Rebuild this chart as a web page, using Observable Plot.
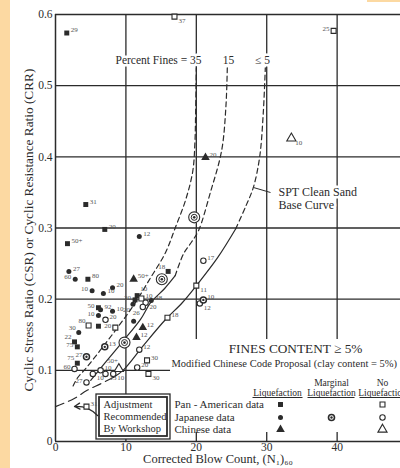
<!DOCTYPE html>
<html><head><meta charset="utf-8">
<script src="https://cdn.jsdelivr.net/npm/d3@7"></script>
<script src="https://cdn.jsdelivr.net/npm/@observablehq/plot@0.6"></script>
<style>
html,body{margin:0;padding:0;background:#fff;overflow:hidden}
#wrap{position:relative;width:400px;height:468px;overflow:hidden;background:#fff}
#wrap svg{position:absolute;left:0;top:0}
.strip{position:absolute;left:0;top:0;width:10px;height:468px;background:#fcd9a2}
.tr{position:absolute;left:367px;top:0;width:33px;height:2px;background:#fcd9a2}
</style></head>
<body><div id="wrap"><div class="strip"></div><div class="tr"></div></div>
<script>
// ---- tick values ----
const xTicks = [0, 10, 20, 30, 40];
const yTicks = [0, 0.1, 0.2, 0.3, 0.4, 0.5, 0.6];

// ---- data: [ (N1)60, CSR, label ] ----
const panLiq = [[1.6,0.574,"29"],[4.3,0.333,"31"],[7.0,0.298,"20"],[1.7,0.278,"50+"],[4.6,0.228,"80"],
  [16.0,0.239,"18"],[11.6,0.205,"10"],[11.3,0.199,"20"],[6.1,0.188,"50"],[6.1,0.162,""],
  [2.7,0.140,"22"],[3.1,0.133,"75"],[3.1,0.110,"75"]];
const panNo = [[16.9,0.597,"37"],[39.5,0.577,"25"],[12.2,0.201,"10"],[4.7,0.163,"80"],[8.5,0.160,"20"],
  [20.0,0.219,"11"],[15.9,0.174,"18"],[13.0,0.114,"30"],[13.2,0.095,"30"],[4.4,0.049,"31"]];
const jpLiq = [[11.9,0.288,"12"],[1.9,0.239,"27"],[2.8,0.228,"60"],[8.1,0.216,"20"],[5.2,0.212,"10"],
  [6.8,0.208,"10"],[6.4,0.185,"92"],[6.1,0.177,"10"],[8.1,0.183,"10"],[3.3,0.153,"30"],
  [11.1,0.169,""],[13.6,0.198,"48"],[11.0,0.193,"20"]];
const jpMarg = [[7.0,0.133,"13"],[21.0,0.199,"10"],[4.4,0.119,"27"]];
const jpMargLarge = [[19.7,0.315],[15.1,0.228],[9.8,0.139]];
const jpNo = [[21.0,0.254,"17"],[20.5,0.194,"12"],[7.1,0.171,"20"],[12.8,0.195,"20"],[11.9,0.129,"12"],
  [2.7,0.102,"60"],[5.3,0.095,"10"],[6.4,0.100,"10"],[7.1,0.095,"13"],[8.2,0.095,"10"],
  [11.6,0.104,"20"],[4.4,0.083,"27"],[12.4,0.189,"26"]];
const cnLiq = [[21.3,0.399,"20"],[11.1,0.228,"50+"],[12.4,0.160,"12"],[11.5,0.146,"12"]];
const cnNo = [[33.5,0.426,"10"],[9.0,0.102,"50+"]];

// ---- curves: [ (N1)60, CRR ] ----
const fc35Dashed = [[2.5,0.078],[3.1,0.089],[4.5,0.105],[6.5,0.130],[8.8,0.160],[11.0,0.190],[13.5,0.230],
  [15.6,0.265],[17.0,0.300],[18.5,0.340],[19.5,0.380],[19.8,0.420],[19.9,0.460],[20.0,0.525]];
const fc15Solid = [[5.0,0.086],[7.0,0.110],[9.5,0.140],[12.1,0.172],[13.5,0.195],[15.5,0.215],[17.0,0.233]];
const fc15Dashed = [[17.0,0.233],[18.2,0.264],[19.3,0.280],[20.3,0.296],[22.0,0.350],[23.6,0.409],[24.2,0.470],[24.4,0.525]];
const fc5Lower = [[0,0.049],[2.6,0.060],[4.5,0.072],[6.4,0.081],[8.2,0.090]];
const fc5Solid = [[8.2,0.090],[9.6,0.100],[12.5,0.135],[15.5,0.170],[18.0,0.195],[20.0,0.219],[23.0,0.258],[25.6,0.299]];
const fc5Upper = [[25.6,0.299],[27.0,0.330],[28.1,0.357],[29.0,0.400],[29.5,0.460],[29.8,0.525]];

// ---- label side overrides ----
const sideOf = {
 "panLiq-5":"lu","panLiq-6":"ru","panLiq-7":"l","panLiq-8":"l","panLiq-10":"lu","panLiq-11":"l","panLiq-12":"lu",
 "panNo-0":"rb","panNo-1":"l","panNo-3":"lu","panNo-4":"l","panNo-5":"rb","panNo-8":"rb",
 "jpLiq-2":"l","jpLiq-4":"l","jpLiq-7":"l","jpLiq-9":"lu","jpLiq-12":"lb",
 "jpMarg-2":"l",
 "jpNo-1":"rb","jpNo-3":"rb","jpNo-5":"l","jpNo-6":"rb","jpNo-8":"rb","jpNo-9":"rb","jpNo-11":"l","jpNo-12":"lb",
 "cnNo-0":"rb","cnNo-1":"luu"
};

// ---- layout ----
const W = 400, H = 468, ML = 55, MT = 14, MB = 27, XMAX = 49;
const X = px => (px - ML) * XMAX / (W - ML);
const Y = py => (H - MB - py) * 0.6 / (H - MB - MT);
const ink = "#2b2b2b";
const serif = "'Liberation Serif', 'Times New Roman', serif";

const series = {panLiq, panNo, jpLiq, jpMarg, jpNo, cnLiq, cnNo};
const labeled = [];
for (const [name, arr] of Object.entries(series)) {
  arr.forEach((d, i) => { if (d[2]) labeled.push({x: d[0], y: d[1], t: d[2], side: sideOf[name + "-" + i] || "r"}); });
}
const sideOpts = {
  r: {dx: 4, dy: -3, textAnchor: "start"},
  ru: {dx: 3, dy: -7, textAnchor: "start"},
  l: {dx: -4, dy: -2, textAnchor: "end"},
  rb: {dx: 4, dy: 4, textAnchor: "start"},
  lb: {dx: -3, dy: 6, textAnchor: "end"},
  lu: {dx: -3, dy: -5, textAnchor: "end"},
  luu: {dx: -1, dy: -8, textAnchor: "end"}
};
const px = d => d[0], py = d => d[1];
const lineStyle = {x: px, y: py, curve: "catmull-rom", stroke: ink, strokeWidth: 1.2};
const dash = {strokeDasharray: "5,3.5"};
const halo = {stroke: "white", strokeWidth: 5, paintOrder: "stroke", fill: ink};

const ann = (t, x, y, o = {}) => Plot.text([{t, x: X(x), y: Y(y)}], {x: "x", y: "y", text: "t", fill: ink, ...o});

const legCols = [280, 331, 382], legRows = [404, 417, 429];

const chart = Plot.plot({
  width: W, height: H, marginLeft: ML, marginRight: 0, marginTop: MT, marginBottom: MB,
  x: {domain: [0, XMAX], axis: null},
  y: {domain: [0, 0.6], axis: null},
  style: {fontFamily: serif, color: ink, background: "white", overflow: "hidden"},
  marks: [
    // grid & frame
    Plot.ruleX(xTicks.filter(d => d > 0), {y1: 0, y2: 0.6, stroke: ink, strokeWidth: 1.3}),
    Plot.ruleY(yTicks.filter(d => d > 0 && d < 0.6), {stroke: ink, strokeWidth: 1.3}),
    Plot.ruleX([0], {y1: 0, y2: 0.6, stroke: ink, strokeWidth: 1.5}),
    Plot.ruleY([0, 0.6], {stroke: ink, strokeWidth: 1.5}),
    // tick labels
    Plot.text(xTicks, {x: d => d, frameAnchor: "bottom", dy: 9, text: d => String(d), fontSize: 11.5, fill: ink}),
    Plot.text(yTicks, {y: d => d, frameAnchor: "left", dx: -3, textAnchor: "end", text: d => d === 0 ? "0" : d.toFixed(1), fontSize: 11.5, fill: ink}),
    // axis titles
    Plot.text(["Cyclic Stress Ratio (CSR) or Cyclic Resistance Ratio (CRR)"], {frameAnchor: "left", textAnchor: "middle", dx: -27, dy: 2, rotate: -90, fontSize: 13.3, fill: ink}),
    Plot.text(["Corrected Blow Count, (N\u2081)\u2086\u2080"], {frameAnchor: "bottom", textAnchor: "middle", dx: -10, dy: 21, fontSize: 12.5, fill: ink}),
    // curves
    Plot.line(fc35Dashed, {...lineStyle, ...dash}),
    Plot.line(fc15Solid, lineStyle),
    Plot.line(fc15Dashed, {...lineStyle, ...dash}),
    Plot.line(fc5Lower, {...lineStyle, strokeDasharray: "9,5"}),
    Plot.line(fc5Solid, lineStyle),
    Plot.line(fc5Upper, {...lineStyle, ...dash}),
    // legend background
    Plot.rect([{x1: X(170), x2: XMAX, y1: Y(432), y2: Y(339)}], {x1: "x1", x2: "x2", y1: "y1", y2: "y2", fill: "white"}),
    // workshop box
    Plot.rect([{x1: X(96), x2: X(170), y1: Y(439), y2: Y(394)}], {x1: "x1", x2: "x2", y1: "y1", y2: "y2", fill: "white", stroke: ink, strokeWidth: 1.3}),
    Plot.rect([{x1: X(99), x2: X(167), y1: Y(436), y2: Y(397)}], {x1: "x1", x2: "x2", y1: "y1", y2: "y2", fill: "none", stroke: ink, strokeWidth: 1.8}),
    ann("Adjustment", 103, 404, {textAnchor: "start", fontSize: 10.5}),
    ann("Recommended", 103, 416, {textAnchor: "start", fontSize: 10.5}),
    ann("By Workshop", 103, 428, {textAnchor: "start", fontSize: 10.5}),
    Plot.arrow([{x1: X(97), y1: Y(415), x2: X(74), y2: Y(406)}], {x1: "x1", y1: "y1", x2: "x2", y2: "y2", bend: -25, stroke: ink, strokeWidth: 1.3, headLength: 7}),
    // annotations
    ann("Percent Fines = 35", 201, 60, {textAnchor: "end", fontSize: 11.5, ...halo}),
    ann("15", 228, 60, {fontSize: 11.5, ...halo}),
    ann("\u2264 5", 262, 60, {fontSize: 11.5, ...halo}),
    ann("SPT Clean Sand", 278, 192, {textAnchor: "start", fontSize: 12, ...halo}),
    ann("Base Curve", 278, 205, {textAnchor: "start", fontSize: 12, ...halo}),
    Plot.link([{x1: X(253), y1: Y(187), x2: X(270), y2: Y(192)}], {x1: "x1", y1: "y1", x2: "x2", y2: "y2", stroke: ink, strokeWidth: 1}),
    // legend
    ann("FINES CONTENT \u2265 5%", 295, 348, {fontSize: 13.3}),
    ann("Modified Chinese Code Proposal (clay content = 5%)", 171, 363, {textAnchor: "start", fontSize: 10.5}),
    ann("Liquefaction", 277, 392, {fontSize: 9.5}),
    ann("Marginal", 331, 382, {fontSize: 9.5}),
    ann("Liquefaction", 331, 392, {fontSize: 9.5}),
    ann("No", 382, 382, {fontSize: 9.5}),
    ann("Liquefaction", 382, 392, {fontSize: 9.5}),
    Plot.link([[252, 302], [307, 354], [359, 405]].map(([a, b]) => ({x1: X(a), x2: X(b), y: Y(397)})), {x1: "x1", x2: "x2", y1: "y", y2: "y", stroke: ink, strokeWidth: 1}),
    ann("Pan - American data", 174, legRows[0], {textAnchor: "start", fontSize: 11}),
    ann("Japanese data", 174, legRows[1], {textAnchor: "start", fontSize: 11}),
    ann("Chinese data", 174, legRows[2], {textAnchor: "start", fontSize: 11}),
    Plot.dot([{x: X(legCols[0]), y: Y(legRows[0])}], {x: "x", y: "y", symbol: "square", r: 2.8, fill: ink}),
    Plot.dot([{x: X(legCols[2]), y: Y(legRows[0])}], {x: "x", y: "y", symbol: "square", r: 2.8, fill: "white", stroke: ink, strokeWidth: 1.1}),
    Plot.dot([{x: X(legCols[0]), y: Y(legRows[1])}], {x: "x", y: "y", r: 2.5, fill: ink}),
    Plot.dot([{x: X(legCols[1]), y: Y(legRows[1])}], {x: "x", y: "y", r: 3, fill: "white", stroke: ink, strokeWidth: 1.6}),
    Plot.dot([{x: X(legCols[1]), y: Y(legRows[1])}], {x: "x", y: "y", r: 1.2, fill: ink}),
    Plot.dot([{x: X(legCols[2]), y: Y(legRows[1])}], {x: "x", y: "y", r: 2.7, fill: "white", stroke: ink, strokeWidth: 1.1}),
    Plot.dot([{x: X(legCols[0]), y: Y(legRows[2])}], {x: "x", y: "y", symbol: "triangle", r: 3.2, fill: ink}),
    Plot.dot([{x: X(legCols[2]), y: Y(legRows[2])}], {x: "x", y: "y", symbol: "triangle", r: 3.4, fill: "white", stroke: ink, strokeWidth: 1.1}),
    // data points
    Plot.dot(panLiq, {x: px, y: py, symbol: "square", r: 2.8, fill: ink}),
    Plot.dot(panNo, {x: px, y: py, symbol: "square", r: 2.8, fill: "white", stroke: ink, strokeWidth: 1.1}),
    Plot.dot(jpLiq, {x: px, y: py, r: 2.5, fill: ink}),
    Plot.dot(jpNo, {x: px, y: py, r: 2.7, fill: "white", stroke: ink, strokeWidth: 1.1}),
    Plot.dot(jpMarg, {x: px, y: py, r: 3, fill: "white", stroke: ink, strokeWidth: 1.5}),
    Plot.dot(jpMarg, {x: px, y: py, r: 1.2, fill: ink}),
    Plot.dot(jpMargLarge, {x: px, y: py, r: 5.5, fill: "white", stroke: ink, strokeWidth: 1.1}),
    Plot.dot(jpMargLarge, {x: px, y: py, r: 3, fill: "none", stroke: ink, strokeWidth: 1}),
    Plot.dot(jpMargLarge, {x: px, y: py, r: 1.3, fill: ink}),
    Plot.dot(cnLiq, {x: px, y: py, symbol: "triangle", r: 3.2, fill: ink}),
    Plot.dot(cnNo, {x: px, y: py, symbol: "triangle", r: 3.4, fill: "white", stroke: ink, strokeWidth: 1.1}),
    // point labels
    ...Object.entries(sideOpts).map(([k, o]) =>
      Plot.text(labeled.filter(d => d.side === k), {x: "x", y: "y", text: "t", fontSize: 7, fill: "#555", ...o}))
  ]
});
document.getElementById("wrap").prepend(chart);
</script>
</body></html>
